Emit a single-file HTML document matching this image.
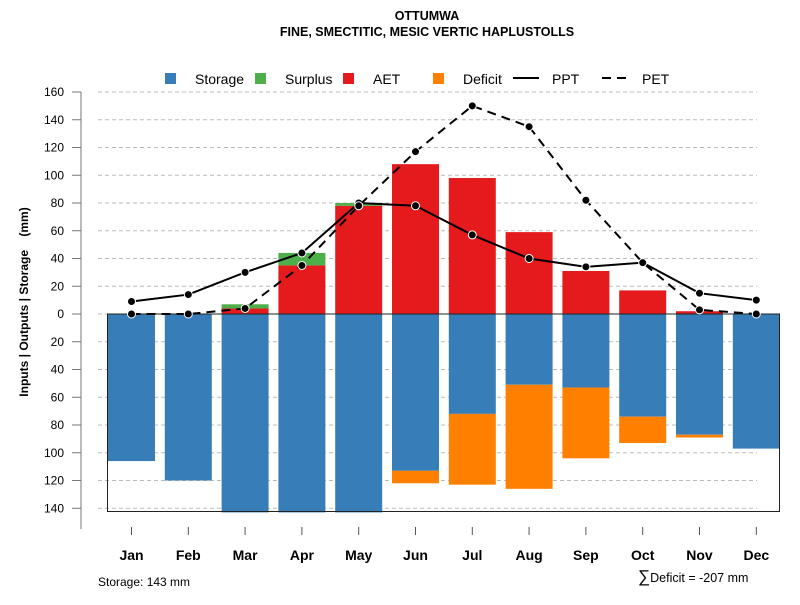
<!DOCTYPE html>
<html><head><meta charset="utf-8"><style>
body{margin:0;background:#fff}
text{font-family:"Liberation Sans",Arial,sans-serif}
</style></head><body>
<svg id="chart" width="800" height="600" viewBox="0 0 800 600" xmlns="http://www.w3.org/2000/svg">
<text x="427" y="20" text-anchor="middle" font-size="12.5" font-weight="bold">OTTUMWA</text>
<text x="427" y="36" text-anchor="middle" font-size="12.5" font-weight="bold">FINE, SMECTITIC, MESIC VERTIC HAPLUSTOLLS</text>
<g id="grid"></g>
<g id="bars"></g>
<g id="axes"></g>
<g id="lines"></g>
<g id="legend">
<rect x="165" y="73" width="11" height="11" fill="#377eb8"/>
<text x="195" y="84" font-size="14">Storage</text>
<rect x="255" y="73" width="11" height="11" fill="#4daf4a"/>
<text x="285" y="84" font-size="14">Surplus</text>
<rect x="343" y="73" width="11" height="11" fill="#e41a1c"/>
<text x="373" y="84" font-size="14">AET</text>
<rect x="433" y="73" width="11" height="11" fill="#ff7f00"/>
<text x="463" y="84" font-size="14">Deficit</text>
<line x1="513" y1="78" x2="539" y2="78" stroke="#000" stroke-width="2"/>
<text x="552" y="84" font-size="14">PPT</text>
<line x1="602" y1="78" x2="626" y2="78" stroke="#000" stroke-width="2" stroke-dasharray="9,6"/>
<text x="642" y="84" font-size="14">PET</text>
</g>
<text transform="translate(28,302) rotate(-90)" text-anchor="middle" font-size="12" font-weight="bold" xml:space="preserve" style="white-space:pre">Inputs | Outputs | Storage    (mm)</text>
<text x="98" y="586" font-size="12">Storage: 143 mm</text>
<text x="638" y="582" font-size="12.5"><tspan font-size="17">∑</tspan>Deficit = -207 mm</text>
</svg>
<script>
const months=["Jan","Feb","Mar","Apr","May","Jun","Jul","Aug","Sep","Oct","Nov","Dec"];
const storage=[106,120,143,143,143,113,72,51,53,74,87,97];
const deficit=[0,0,0,0,0,9,51,75,51,19,2,0];
const aet=[0,0,4,35,78,108,98,59,31,17,2,0];
const surplus=[0,0,3,9,2,0,0,0,0,0,0,0];
const ppt=[9,14,30,44,80,78,57,40,34,37,15,10];
const pet=[0,0,4,35,78,117,150,135,82,37,3,0];
const yTicks=[160,140,120,100,80,60,40,20,0,-20,-40,-60,-80,-100,-120,-140];
const NS="http://www.w3.org/2000/svg";
const y0=314,k=1.3875;
function Y(v){return y0-v*k;}
function X(i){return 131.5+i*56.8;}
const bw=47;
function mk(p,tag,at){const e=document.createElementNS(NS,tag);for(const a in at)e.setAttribute(a,at[a]);document.getElementById(p).appendChild(e);return e;}
yTicks.forEach(t=>{
  const g=mk('grid','line',{x1:98,x2:757,y1:Y(t),y2:Y(t),stroke:'#bbb','stroke-dasharray':'4,3'});
  
  
  const tk=mk('axes','line',{x1:72,x2:81,y1:Y(t),y2:Y(t),stroke:'#777'});
  
  
  const lb=mk('axes','text',{x:64,y:Y(t)+4,'text-anchor':'end','font-size':12});
  lb.textContent=Math.abs(t);
  
  
});
const ax=mk('axes','line',{x1:81,x2:81,y1:92,y2:529,stroke:'#777'});


months.forEach((m,i)=>{
  const x=X(i)-bw/2;
  const s=mk('bars','rect',{x:x,y:y0,width:bw,height:storage[i]*k,fill:'#377eb8'});
  
  
  if(deficit[i]>0){const d=mk('bars','rect',{x:x,y:Y(-storage[i]),width:bw,height:deficit[i]*k,fill:'#ff7f00'});
  
  }
  if(aet[i]>0){const a=mk('bars','rect',{x:x,y:Y(aet[i]),width:bw,height:aet[i]*k,fill:'#e41a1c'});
  
  }
  if(surplus[i]>0){const u=mk('bars','rect',{x:x,y:Y(aet[i]+surplus[i]),width:bw,height:surplus[i]*k,fill:'#4daf4a'});
  
  }
  const tk=mk('axes','line',{x1:X(i),x2:X(i),y1:527,y2:535,stroke:'#555'});
  
  
  const lb=mk('axes','text',{x:X(i),y:560,'text-anchor':'middle','font-size':14,'font-weight':'bold'});
  lb.textContent=m;
  
  
});
const box=mk('axes','path',{d:`M107.5 ${y0} V511.5 H779.5 V${y0}`,fill:'none',stroke:'#222'});


const zl=mk('axes','line',{x1:107,x2:780,y1:y0,y2:y0,stroke:'#222'});


function series(arr,name,dash){
  const pl=mk('lines','polyline',{points:arr.map((v,i)=>X(i)+','+Y(v)).join(' '),fill:'none',stroke:'#000','stroke-width':2,'stroke-dasharray':dash||'none'});
  
  
  arr.forEach((v,i)=>{const c=mk('lines','circle',{cx:X(i),cy:Y(v),r:4,fill:'#000',stroke:'#fff','stroke-width':1});
  
  });
}
series(ppt,'ppt');
series(pet,'pet','9,6');
</script>
</body></html>
